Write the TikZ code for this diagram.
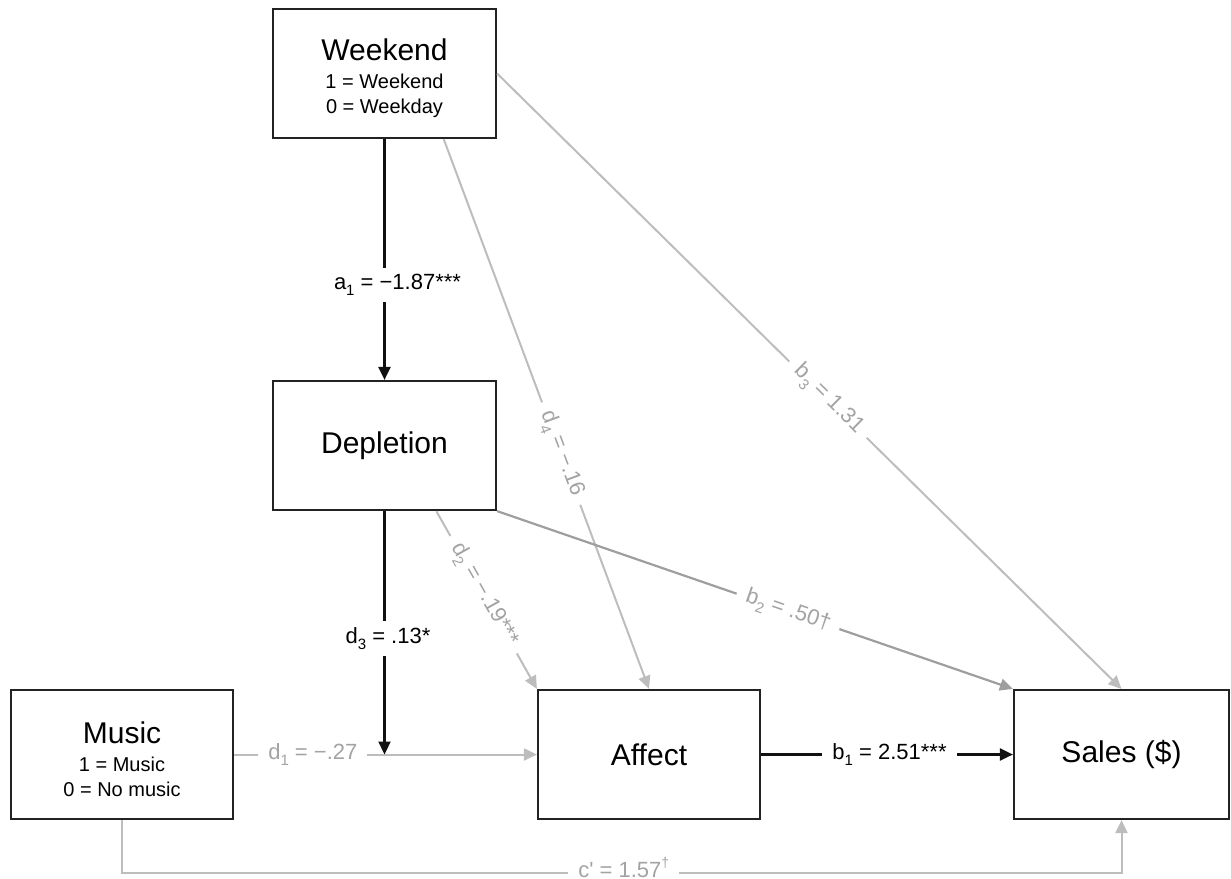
\documentclass[tikz,border=0pt]{standalone}
\usepackage{fontspec}
\setmainfont{Liberation Sans}
\usetikzlibrary{arrows.meta,calc}
\definecolor{lgray}{HTML}{BDBDBD}
\definecolor{mgray}{HTML}{9E9E9E}
\definecolor{tgray}{HTML}{A3A3A3}
\definecolor{boxline}{HTML}{222222}
\definecolor{blk}{HTML}{111111}
\newcommand{\sbs}[1]{\raisebox{-0.3em}{\fontsize{15}{15}\selectfont #1}}
\begin{document}
\begin{tikzpicture}[x=1pt,y=-1pt,
  box/.style={draw=boxline, line width=2.2pt, fill=white, minimum width=223pt,
    minimum height=129pt, inner sep=0pt, align=center, font=\fontsize{30}{36}\selectfont},
  sub/.style={font=\fontsize{20}{25}\selectfont},
  blkline/.style={draw=blk, line width=2.2pt, -{Triangle[length=13pt,width=12pt]}},
  gryline/.style={draw=lgray, line width=2pt, -{Triangle[length=13pt,width=12pt]}},
  midline/.style={draw=mgray, line width=2.2pt, -{Triangle[length=13pt,width=12pt]}},
  lbl/.style={fill=white, inner xsep=10pt, inner ysep=6pt, font=\fontsize{22}{26}\selectfont, text=black},
  glbl/.style={lbl, text=tgray}
]
\useasboundingbox (0,0) rectangle (1231,878);

% boxes
\node[box, sub] (W) at (384.5,73.5) {{\fontsize{30}{36}\selectfont\rule{0pt}{32pt}Weekend}\\[3pt]1 = Weekend\\0 = Weekday};
\node[box] (D) at (384.5,445.5) {Depletion};
\node[box, sub, minimum width=222pt] (M) at (122,754.5) {{\fontsize{30}{36}\selectfont\rule{0pt}{32pt}Music}\\[3pt]1 = Music\\0 = No music};
\node[box, minimum width=222pt] (A) at (649,754.5) {Affect};
\node[box, minimum width=215pt] (S) at (1121.5,754.5) {Sales (\$)};

% helper coordinates
\coordinate (J) at (D.south |- M.east);
\coordinate (Wd4) at ($(W.south west)!0.763!(W.south east)$);
\coordinate (Dd2) at ($(D.south west)!0.73!(D.south east)$);

% gray connectors
\draw[gryline] (M.south) -- ++(0,53) coordinate (C1)
  -- node[glbl, pos=0.502, yshift=6pt, inner ysep=0pt] (lc) {c\textquotesingle{} = 1.57\raisebox{0.45em}{\fontsize{14}{14}\selectfont †}} (C1 -| S.south) -- (S.south);
\draw[gryline] (M.east) -- node[glbl, pos=0.26] (ld1) {d\sbs{1} = −.27} (A.west);
\draw[gryline] (W.east) -- node[glbl, sloped, pos=0.53] (lb3) {b\sbs{3} = 1.31} (S.north);
\draw[gryline] (Wd4) -- node[glbl, sloped, pos=0.572] (ld4) {d\sbs{4} = −.16} (A.north);
\draw[gryline] (Dd2) -- node[glbl, sloped, pos=0.47] (ld2) {d\sbs{2} = −.19***} (A.north west);
\draw[midline] (D.south east) -- node[glbl, sloped, pos=0.564] (lb2) {b\sbs{2} = .50†} (S.north west);

% black connectors
\draw[blkline] (W.south) -- node[lbl, pos=0.605, xshift=13pt] (la1) {a\sbs{1} = −1.87***} (D.north);
\draw[blkline] (D.south) -- node[lbl, pos=0.523, xshift=3.5pt] (ld3) {d\sbs{3} = .13*} (J);
\draw[blkline] (A.east) -- node[lbl, pos=0.51] (lb1) {b\sbs{1} = 2.51***} (S.west);
\end{tikzpicture}
\end{document}
